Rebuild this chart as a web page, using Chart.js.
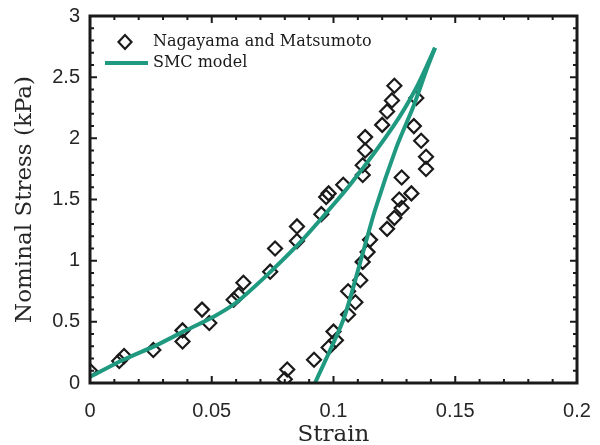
<!DOCTYPE html>
<html>
<head>
<meta charset="utf-8">
<script src="https://cdn.jsdelivr.net/npm/chart.js@4"></script>
<style>
  html, body { margin: 0; padding: 0; background: #fff; }
  #wrap { width: 600px; height: 445px; }
</style>
</head>
<body>
<div id="wrap"><canvas id="stressChart" width="600" height="445"></canvas></div>
<script>
const expStrain = [0.000, 0.012, 0.014, 0.026, 0.038, 0.038, 0.046, 0.049, 0.059, 0.061,
                   0.063, 0.074, 0.076, 0.085, 0.085, 0.095, 0.097, 0.098, 0.104, 0.112,
                   0.112, 0.113, 0.113, 0.120, 0.122, 0.124, 0.125,
                   0.134, 0.133, 0.136, 0.138, 0.138, 0.128, 0.132, 0.127, 0.128, 0.125,
                   0.122, 0.115, 0.114, 0.112, 0.111, 0.106, 0.109, 0.106, 0.100, 0.101,
                   0.098, 0.092, 0.081, 0.080];
const expStress = [0.10, 0.18, 0.22, 0.27, 0.34, 0.43, 0.60, 0.49, 0.68, 0.72,
                   0.82, 0.91, 1.10, 1.16, 1.28, 1.38, 1.52, 1.55, 1.62, 1.70,
                   1.78, 1.90, 2.01, 2.11, 2.22, 2.31, 2.43,
                   2.33, 2.10, 1.98, 1.85, 1.75, 1.68, 1.55, 1.50, 1.43, 1.35,
                   1.26, 1.17, 1.07, 0.99, 0.84, 0.75, 0.66, 0.56, 0.42, 0.35,
                   0.29, 0.19, 0.11, 0.03];

// SMC model, loading and unloading branches
const modelLoadStrain = [0, 0.0137, 0.0274, 0.0383, 0.0506, 0.0602, 0.0726, 0.0849, 0.0944, 0.1068, 0.1246, 0.1342, 0.1417];
const modelLoadStress = [0.05, 0.19, 0.31, 0.42, 0.54, 0.66, 0.88, 1.12, 1.33, 1.62, 2.10, 2.42, 2.74];
const modelUnloadStrain = [0.1417, 0.1382, 0.1328, 0.1259, 0.1170, 0.1109, 0.1040, 0.0924];
const modelUnloadStress = [2.74, 2.56, 2.26, 1.93, 1.41, 0.98, 0.515, 0.00];

const xTicks = [0, 0.05, 0.1, 0.15, 0.2];
const yTicks = [0, 0.5, 1, 1.5, 2, 2.5, 3];

const teal = '#1f9a80';
const ink = '#1a1a1a';

function toPoints(xs, ys) {
    return xs.map((x, i) => ({ x: x, y: ys[i] }));
}

// Box frame with inward major/minor ticks on all four sides
const frameTicks = {
    id: 'frameTicks',
    afterDatasetsDraw(chart) {
        const { ctx, chartArea: a, scales: { x, y } } = chart;
        ctx.save();
        ctx.strokeStyle = ink;
        ctx.lineWidth = 2;
        ctx.beginPath();
        for (let i = 0; i <= 20; i++) {
            const v = i * 0.01;
            const px = x.getPixelForValue(v);
            const len = i % 5 === 0 ? 7 : 4;
            ctx.moveTo(px, a.bottom); ctx.lineTo(px, a.bottom - len);
            ctx.moveTo(px, a.top); ctx.lineTo(px, a.top + len);
        }
        for (let i = 0; i <= 30; i++) {
            const v = i * 0.1;
            const py = y.getPixelForValue(v);
            const len = i % 5 === 0 ? 7 : 4;
            ctx.moveTo(a.left, py); ctx.lineTo(a.left + len, py);
            ctx.moveTo(a.right, py); ctx.lineTo(a.right - len, py);
        }
        ctx.stroke();
        ctx.lineWidth = 3;
        ctx.strokeRect(a.left, a.top, a.right - a.left, a.bottom - a.top);
        ctx.restore();
    },
    afterDraw(chart) {
        // legend in the upper-left corner of the axes
        const ctx = chart.ctx;
        ctx.save();
        ctx.strokeStyle = ink;
        ctx.lineWidth = 2.2;
        ctx.beginPath();
        ctx.moveTo(118.5, 42); ctx.lineTo(125, 35); ctx.lineTo(131.5, 42); ctx.lineTo(125, 49);
        ctx.closePath();
        ctx.stroke();
        ctx.strokeStyle = teal;
        ctx.lineWidth = 4;
        ctx.beginPath();
        ctx.moveTo(105, 63); ctx.lineTo(148, 63);
        ctx.stroke();
        ctx.fillStyle = ink;
        ctx.font = '16px "DejaVu Serif"';
        ctx.textBaseline = 'middle';
        ctx.textAlign = 'left';
        ctx.fillText('Nagayama and Matsumoto', 153, 42);
        ctx.fillText('SMC model', 153, 63);
        ctx.restore();
    }
};

const ctx = document.getElementById('stressChart');
new Chart(ctx, {
    type: 'scatter',
    data: {
        datasets: [
            {
                label: 'SMC model',
                data: toPoints(modelLoadStrain, modelLoadStress),
                showLine: true,
                borderColor: teal,
                borderWidth: 4,
                pointRadius: 0,
                tension: 0.25
            },
            {
                label: 'SMC model (unloading)',
                data: toPoints(modelUnloadStrain, modelUnloadStress),
                showLine: true,
                borderColor: teal,
                borderWidth: 4,
                pointRadius: 0,
                tension: 0.25
            },
            {
                label: 'Nagayama and Matsumoto',
                data: toPoints(expStrain, expStress),
                pointStyle: 'rectRot',
                pointRadius: 7,
                pointBorderWidth: 2.2,
                borderColor: ink,
                backgroundColor: 'rgba(0,0,0,0)'
            }
        ]
    },
    options: {
        responsive: false,
        devicePixelRatio: 1,
        animation: false,
        layout: { padding: { left: 0, top: 16, right: 23, bottom: 0 } },
        plugins: {
            legend: { display: false },
            tooltip: { enabled: false }
        },
        scales: {
            x: {
                type: 'linear',
                min: 0,
                max: 0.2,
                afterFit: (s) => { s.height = 62; s.paddingLeft = 0; s.paddingRight = 0; },
                afterBuildTicks: (s) => { s.ticks = xTicks.map(v => ({ value: v })); },
                grid: { display: false, drawTicks: false },
                border: { display: false },
                ticks: {
                    padding: 16,
                    color: '#262626',
                    font: { family: 'Liberation Sans', size: 20 },
                    callback: (v) => String(v)
                },
                title: {
                    display: true,
                    text: 'Strain',
                    color: '#262626',
                    padding: 0,
                    font: { family: 'DejaVu Serif', size: 23, lineHeight: '20px' }
                }
            },
            y: {
                type: 'linear',
                min: 0,
                max: 3,
                afterFit: (s) => { s.width = 90; s.paddingTop = 0; s.paddingBottom = 0; },
                afterBuildTicks: (s) => { s.ticks = yTicks.map(v => ({ value: v })); },
                grid: { display: false, drawTicks: false },
                border: { display: false },
                ticks: {
                    padding: 10,
                    color: '#262626',
                    font: { family: 'Liberation Sans', size: 20 },
                    callback: (v) => String(v)
                },
                title: {
                    display: true,
                    text: 'Nominal Stress (kPa)',
                    color: '#262626',
                    padding: { top: 13, bottom: 0 },
                    font: { family: 'DejaVu Serif', size: 23, lineHeight: '24px' }
                }
            }
        }
    },
    plugins: [frameTicks]
});
</script>
</body>
</html>
